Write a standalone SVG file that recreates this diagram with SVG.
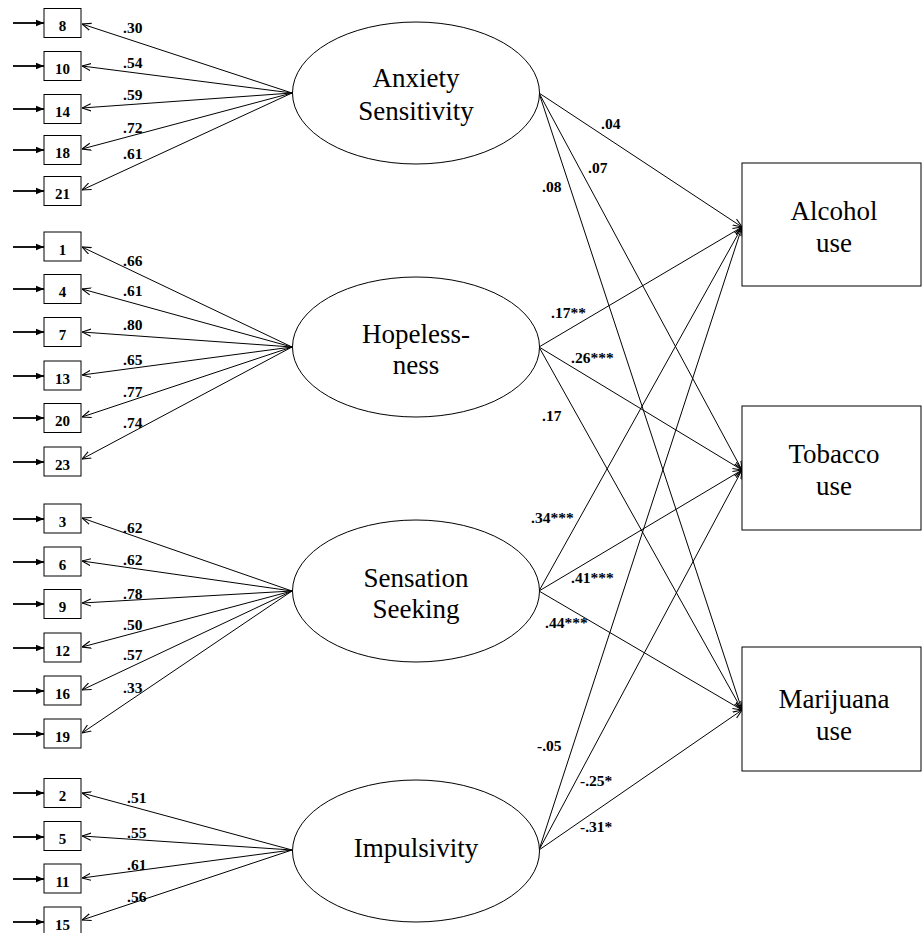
<svg xmlns="http://www.w3.org/2000/svg" width="922" height="933" viewBox="0 0 922 933">
<style>
.bg{fill:#fff}
.box{fill:#fff;stroke:#000;stroke-width:1}
.ell{fill:#fff;stroke:#000;stroke-width:1}
.ln{stroke:#000;stroke-width:1;fill:none;marker-end:url(#open)}
.in{stroke:#000;stroke-width:1.8;fill:none;marker-end:url(#fill)}
.num{font-weight:bold;font-size:15px;text-anchor:middle;fill:#000}
.lbl{font-weight:bold;font-size:15.5px;fill:#000}
.big{font-size:27px;text-anchor:middle;fill:#000}
</style>
<defs>
<marker id="open" viewBox="0 0 10 10" refX="10" refY="5" markerUnits="userSpaceOnUse" markerWidth="9" markerHeight="9" orient="auto">
<path d="M0,1 L10,5 L0,9" fill="none" stroke="#000" stroke-width="1.2"/>
</marker>
<marker id="fill" viewBox="0 0 10 10" refX="10" refY="5" markerUnits="userSpaceOnUse" markerWidth="8" markerHeight="8" orient="auto">
<path d="M0,1 L10,5 L0,9 z" fill="#000"/>
</marker>
</defs>
<rect class="bg" x="0" y="0" width="922" height="933"/>
<g font-family="Liberation Serif, Times New Roman, serif">
<g id="connectors">
<line class="in" x1="13" y1="23" x2="44" y2="23"/>
<line class="in" x1="13" y1="66" x2="44" y2="66"/>
<line class="in" x1="13" y1="109" x2="44" y2="109"/>
<line class="in" x1="13" y1="150" x2="44" y2="150"/>
<line class="in" x1="13" y1="191" x2="44" y2="191"/>
<line class="in" x1="13" y1="247" x2="44" y2="247"/>
<line class="in" x1="13" y1="289" x2="44" y2="289"/>
<line class="in" x1="13" y1="332" x2="44" y2="332"/>
<line class="in" x1="13" y1="376" x2="44" y2="376"/>
<line class="in" x1="13" y1="418" x2="44" y2="418"/>
<line class="in" x1="13" y1="462" x2="44" y2="462"/>
<line class="in" x1="13" y1="519" x2="44" y2="519"/>
<line class="in" x1="13" y1="562" x2="44" y2="562"/>
<line class="in" x1="13" y1="604" x2="44" y2="604"/>
<line class="in" x1="13" y1="648" x2="44" y2="648"/>
<line class="in" x1="13" y1="691" x2="44" y2="691"/>
<line class="in" x1="13" y1="734" x2="44" y2="734"/>
<line class="in" x1="13" y1="793" x2="44" y2="793"/>
<line class="in" x1="13" y1="837" x2="44" y2="837"/>
<line class="in" x1="13" y1="879" x2="44" y2="879"/>
<line class="in" x1="13" y1="922" x2="44" y2="922"/>
<line class="ln" x1="292" y1="93" x2="82" y2="24"/>
<line class="ln" x1="292" y1="93" x2="82" y2="66"/>
<line class="ln" x1="292" y1="93" x2="82" y2="108"/>
<line class="ln" x1="292" y1="93" x2="82" y2="149"/>
<line class="ln" x1="292" y1="93" x2="82" y2="190"/>
<line class="ln" x1="292" y1="347" x2="82" y2="247"/>
<line class="ln" x1="292" y1="347" x2="82" y2="289"/>
<line class="ln" x1="292" y1="347" x2="82" y2="332"/>
<line class="ln" x1="292" y1="347" x2="82" y2="375"/>
<line class="ln" x1="292" y1="347" x2="82" y2="417"/>
<line class="ln" x1="292" y1="347" x2="82" y2="459"/>
<line class="ln" x1="292" y1="591" x2="82" y2="518"/>
<line class="ln" x1="292" y1="591" x2="82" y2="561"/>
<line class="ln" x1="292" y1="591" x2="82" y2="603"/>
<line class="ln" x1="292" y1="591" x2="82" y2="647"/>
<line class="ln" x1="292" y1="591" x2="82" y2="690"/>
<line class="ln" x1="292" y1="591" x2="82" y2="733"/>
<line class="ln" x1="292" y1="850" x2="82" y2="793"/>
<line class="ln" x1="292" y1="850" x2="82" y2="836"/>
<line class="ln" x1="292" y1="850" x2="82" y2="878"/>
<line class="ln" x1="292" y1="850" x2="82" y2="920"/>
<line class="ln" x1="539" y1="93" x2="742" y2="227"/>
<line class="ln" x1="539" y1="93" x2="742" y2="470"/>
<line class="ln" x1="539" y1="93" x2="742" y2="710"/>
<line class="ln" x1="539" y1="347" x2="742" y2="227"/>
<line class="ln" x1="539" y1="347" x2="742" y2="470"/>
<line class="ln" x1="539" y1="347" x2="742" y2="710"/>
<line class="ln" x1="539" y1="591" x2="742" y2="227"/>
<line class="ln" x1="539" y1="591" x2="742" y2="470"/>
<line class="ln" x1="539" y1="591" x2="742" y2="710"/>
<line class="ln" x1="539" y1="850" x2="742" y2="227"/>
<line class="ln" x1="539" y1="850" x2="742" y2="470"/>
<line class="ln" x1="539" y1="850" x2="742" y2="710"/>
<text class="lbl" x="123" y="33">.30</text>
<text class="lbl" x="123" y="68">.54</text>
<text class="lbl" x="123" y="100">.59</text>
<text class="lbl" x="123" y="133">.72</text>
<text class="lbl" x="123" y="159">.61</text>
<text class="lbl" x="123" y="266">.66</text>
<text class="lbl" x="123" y="296">.61</text>
<text class="lbl" x="123" y="330">.80</text>
<text class="lbl" x="123" y="365">.65</text>
<text class="lbl" x="123" y="397">.77</text>
<text class="lbl" x="123" y="428">.74</text>
<text class="lbl" x="123" y="533">.62</text>
<text class="lbl" x="123" y="565">.62</text>
<text class="lbl" x="123" y="599">.78</text>
<text class="lbl" x="123" y="630">.50</text>
<text class="lbl" x="123" y="660">.57</text>
<text class="lbl" x="123" y="693">.33</text>
<text class="lbl" x="127" y="803">.51</text>
<text class="lbl" x="127" y="838">.55</text>
<text class="lbl" x="127" y="870">.61</text>
<text class="lbl" x="127" y="902">.56</text>
<text class="lbl" x="601" y="129">.04</text>
<text class="lbl" x="588" y="173">.07</text>
<text class="lbl" x="542" y="192">.08</text>
<text class="lbl" x="551" y="318">.17**</text>
<text class="lbl" x="571" y="363">.26***</text>
<text class="lbl" x="542" y="421">.17</text>
<text class="lbl" x="531" y="523">.34***</text>
<text class="lbl" x="571" y="583">.41***</text>
<text class="lbl" x="545" y="628">.44***</text>
<text class="lbl" x="537" y="751">-.05</text>
<text class="lbl" x="580" y="786">-.25*</text>
<text class="lbl" x="580" y="832">-.31*</text>
</g>

<g id="item8"><rect class="box" x="44" y="8.5" width="37" height="29"/><text class="num" x="62.5" y="31">8</text></g>
<g id="item10"><rect class="box" x="44" y="51.5" width="37" height="29"/><text class="num" x="62.5" y="74">10</text></g>
<g id="item14"><rect class="box" x="44" y="94.5" width="37" height="29"/><text class="num" x="62.5" y="117">14</text></g>
<g id="item18"><rect class="box" x="44" y="135.5" width="37" height="29"/><text class="num" x="62.5" y="158">18</text></g>
<g id="item21"><rect class="box" x="44" y="176.5" width="37" height="29"/><text class="num" x="62.5" y="199">21</text></g>

<g id="item1"><rect class="box" x="44" y="232" width="37" height="29"/><text class="num" x="62.5" y="254.5">1</text></g>
<g id="item4"><rect class="box" x="44" y="274.5" width="37" height="29"/><text class="num" x="62.5" y="297">4</text></g>
<g id="item7"><rect class="box" x="44" y="317.5" width="37" height="29"/><text class="num" x="62.5" y="340">7</text></g>
<g id="item13"><rect class="box" x="44" y="361" width="37" height="29"/><text class="num" x="62.5" y="383.5">13</text></g>
<g id="item20"><rect class="box" x="44" y="403.5" width="37" height="29"/><text class="num" x="62.5" y="426">20</text></g>
<g id="item23"><rect class="box" x="44" y="447" width="37" height="29"/><text class="num" x="62.5" y="469.5">23</text></g>

<g id="item3"><rect class="box" x="44" y="504" width="37" height="29"/><text class="num" x="62.5" y="526.5">3</text></g>
<g id="item6"><rect class="box" x="44" y="547" width="37" height="29"/><text class="num" x="62.5" y="569.5">6</text></g>
<g id="item9"><rect class="box" x="44" y="589.5" width="37" height="29"/><text class="num" x="62.5" y="612">9</text></g>
<g id="item12"><rect class="box" x="44" y="633" width="37" height="29"/><text class="num" x="62.5" y="655.5">12</text></g>
<g id="item16"><rect class="box" x="44" y="676" width="37" height="29"/><text class="num" x="62.5" y="698.5">16</text></g>
<g id="item19"><rect class="box" x="44" y="719" width="37" height="29"/><text class="num" x="62.5" y="741.5">19</text></g>

<g id="item2"><rect class="box" x="44" y="778.5" width="37" height="29"/><text class="num" x="62.5" y="801">2</text></g>
<g id="item5"><rect class="box" x="44" y="821.5" width="37" height="29"/><text class="num" x="62.5" y="844">5</text></g>
<g id="item11"><rect class="box" x="44" y="864" width="37" height="29"/><text class="num" x="62.5" y="886.5">11</text></g>
<g id="item15"><rect class="box" x="44" y="907" width="37" height="29"/><text class="num" x="62.5" y="929.5">15</text></g>

<g id="anxiety"><ellipse class="ell" cx="416" cy="93" rx="123.5" ry="71"/><text class="big" x="416" y="87">Anxiety</text><text class="big" x="416" y="120">Sensitivity</text></g>
<g id="hopelessness"><ellipse class="ell" cx="416" cy="347" rx="123.5" ry="70"/><text class="big" x="416" y="343">Hopeless-</text><text class="big" x="416" y="374">ness</text></g>
<g id="sensation"><ellipse class="ell" cx="416" cy="591" rx="123.5" ry="71"/><text class="big" x="416" y="587">Sensation</text><text class="big" x="416" y="618">Seeking</text></g>
<g id="impulsivity"><ellipse class="ell" cx="416" cy="851" rx="123.5" ry="71"/><text class="big" x="416" y="857">Impulsivity</text></g>

<g id="alcohol"><rect class="box" x="742" y="163" width="179" height="123"/><text class="big" x="834" y="220">Alcohol</text><text class="big" x="834" y="252">use</text></g>
<g id="tobacco"><rect class="box" x="742" y="406" width="179" height="124"/><text class="big" x="834" y="463">Tobacco</text><text class="big" x="834" y="495">use</text></g>
<g id="marijuana"><rect class="box" x="742" y="647" width="179" height="124"/><text class="big" x="834" y="708">Marijuana</text><text class="big" x="834" y="740">use</text></g>
</g>
</svg>
